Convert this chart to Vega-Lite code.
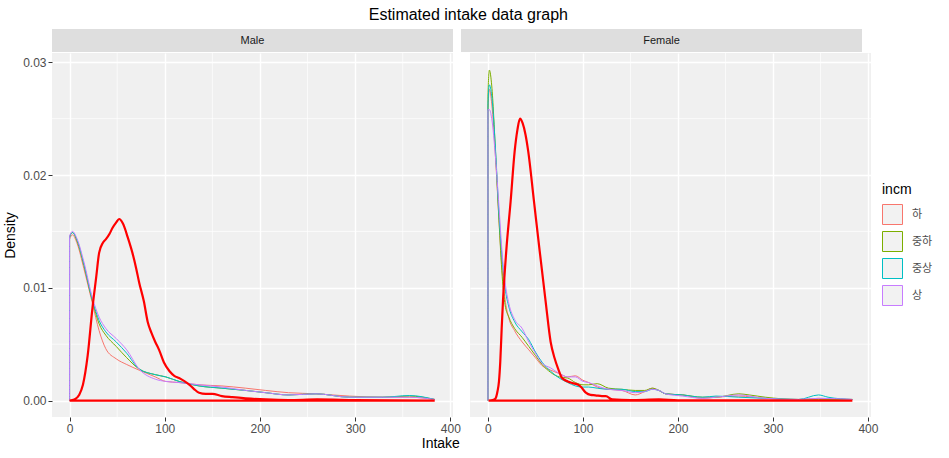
{
"$schema":"https://vega.github.io/schema/vega-lite/v6.json",
"background":"white",
"padding":{"left":3,"top":7,"right":5,"bottom":5},
"title":{"text":"Estimated intake data graph","fontSize":16,"fontWeight":"normal","color":"#000000","anchor":"middle","offset":6},
"datasets":{
"minor":[{"axis":"x","v":50},{"axis":"x","v":150},{"axis":"x","v":250},{"axis":"x","v":350},{"axis":"y","v":0.005},{"axis":"y","v":0.015},{"axis":"y","v":0.025}],
"dens":[
{"sex":"Male","incm":"하","i":0,"x":0,"d":0},{"sex":"Male","incm":"하","i":1,"x":0,"d":0.0143},{"sex":"Male","incm":"하","i":2,"x":3,"d":0.0147},{"sex":"Male","incm":"하","i":3,"x":8,"d":0.0139},{"sex":"Male","incm":"하","i":4,"x":15,"d":0.0117},{"sex":"Male","incm":"하","i":5,"x":24,"d":0.0086},{"sex":"Male","incm":"하","i":6,"x":31,"d":0.0062},{"sex":"Male","incm":"하","i":7,"x":38,"d":0.0046},{"sex":"Male","incm":"하","i":8,"x":49,"d":0.0037},{"sex":"Male","incm":"하","i":9,"x":60,"d":0.0032},{"sex":"Male","incm":"하","i":10,"x":73,"d":0.0027},{"sex":"Male","incm":"하","i":11,"x":90,"d":0.0021},{"sex":"Male","incm":"하","i":12,"x":101,"d":0.0017},{"sex":"Male","incm":"하","i":13,"x":115,"d":0.0016},{"sex":"Male","incm":"하","i":14,"x":136,"d":0.0014},{"sex":"Male","incm":"하","i":15,"x":160,"d":0.0013},{"sex":"Male","incm":"하","i":16,"x":185,"d":0.0011},{"sex":"Male","incm":"하","i":17,"x":206,"d":0.0009},{"sex":"Male","incm":"하","i":18,"x":230,"d":0.0007},{"sex":"Male","incm":"하","i":19,"x":259,"d":0.0006},{"sex":"Male","incm":"하","i":20,"x":294,"d":0.0004},{"sex":"Male","incm":"하","i":21,"x":329,"d":0.0003},{"sex":"Male","incm":"하","i":22,"x":357,"d":0.0003},{"sex":"Male","incm":"하","i":23,"x":383.6,"d":0.0001},
{"sex":"Male","incm":"중하","i":0,"x":0,"d":0},{"sex":"Male","incm":"중하","i":1,"x":0,"d":0.0145},{"sex":"Male","incm":"중하","i":2,"x":3,"d":0.0149},{"sex":"Male","incm":"중하","i":3,"x":8,"d":0.0141},{"sex":"Male","incm":"중하","i":4,"x":15,"d":0.012},{"sex":"Male","incm":"중하","i":5,"x":24,"d":0.0088},{"sex":"Male","incm":"중하","i":6,"x":31,"d":0.0068},{"sex":"Male","incm":"중하","i":7,"x":38,"d":0.0058},{"sex":"Male","incm":"중하","i":8,"x":49,"d":0.0048},{"sex":"Male","incm":"중하","i":9,"x":60,"d":0.0038},{"sex":"Male","incm":"중하","i":10,"x":73,"d":0.0028},{"sex":"Male","incm":"중하","i":11,"x":90,"d":0.0023},{"sex":"Male","incm":"중하","i":12,"x":101,"d":0.0021},{"sex":"Male","incm":"중하","i":13,"x":115,"d":0.0017},{"sex":"Male","incm":"중하","i":14,"x":136,"d":0.0013},{"sex":"Male","incm":"중하","i":15,"x":160,"d":0.0011},{"sex":"Male","incm":"중하","i":16,"x":185,"d":0.0009},{"sex":"Male","incm":"중하","i":17,"x":206,"d":0.0007},{"sex":"Male","incm":"중하","i":18,"x":230,"d":0.0005},{"sex":"Male","incm":"중하","i":19,"x":259,"d":0.0006},{"sex":"Male","incm":"중하","i":20,"x":294,"d":0.0003},{"sex":"Male","incm":"중하","i":21,"x":329,"d":0.0003},{"sex":"Male","incm":"중하","i":22,"x":357,"d":0.0004},{"sex":"Male","incm":"중하","i":23,"x":383.6,"d":0.0001},
{"sex":"Male","incm":"중상","i":0,"x":0,"d":0},{"sex":"Male","incm":"중상","i":1,"x":0,"d":0.0145},{"sex":"Male","incm":"중상","i":2,"x":3,"d":0.0149},{"sex":"Male","incm":"중상","i":3,"x":8,"d":0.0142},{"sex":"Male","incm":"중상","i":4,"x":15,"d":0.0121},{"sex":"Male","incm":"중상","i":5,"x":24,"d":0.0089},{"sex":"Male","incm":"중상","i":6,"x":31,"d":0.0071},{"sex":"Male","incm":"중상","i":7,"x":38,"d":0.0061},{"sex":"Male","incm":"중상","i":8,"x":49,"d":0.0052},{"sex":"Male","incm":"중상","i":9,"x":60,"d":0.0042},{"sex":"Male","incm":"중상","i":10,"x":73,"d":0.0028},{"sex":"Male","incm":"중상","i":11,"x":90,"d":0.0023},{"sex":"Male","incm":"중상","i":12,"x":101,"d":0.0021},{"sex":"Male","incm":"중상","i":13,"x":115,"d":0.0017},{"sex":"Male","incm":"중상","i":14,"x":136,"d":0.0013},{"sex":"Male","incm":"중상","i":15,"x":160,"d":0.0011},{"sex":"Male","incm":"중상","i":16,"x":185,"d":0.0009},{"sex":"Male","incm":"중상","i":17,"x":206,"d":0.0007},{"sex":"Male","incm":"중상","i":18,"x":230,"d":0.0005},{"sex":"Male","incm":"중상","i":19,"x":259,"d":0.0006},{"sex":"Male","incm":"중상","i":20,"x":294,"d":0.0003},{"sex":"Male","incm":"중상","i":21,"x":329,"d":0.0003},{"sex":"Male","incm":"중상","i":22,"x":357,"d":0.00045},{"sex":"Male","incm":"중상","i":23,"x":383.6,"d":0.0001},
{"sex":"Male","incm":"상","i":0,"x":0,"d":0},{"sex":"Male","incm":"상","i":1,"x":0,"d":0.0146},{"sex":"Male","incm":"상","i":2,"x":3,"d":0.015},{"sex":"Male","incm":"상","i":3,"x":8,"d":0.0143},{"sex":"Male","incm":"상","i":4,"x":15,"d":0.0123},{"sex":"Male","incm":"상","i":5,"x":24,"d":0.0091},{"sex":"Male","incm":"상","i":6,"x":31,"d":0.0074},{"sex":"Male","incm":"상","i":7,"x":38,"d":0.0064},{"sex":"Male","incm":"상","i":8,"x":49,"d":0.0055},{"sex":"Male","incm":"상","i":9,"x":60,"d":0.0045},{"sex":"Male","incm":"상","i":10,"x":73,"d":0.0028},{"sex":"Male","incm":"상","i":11,"x":90,"d":0.0019},{"sex":"Male","incm":"상","i":12,"x":101,"d":0.0017},{"sex":"Male","incm":"상","i":13,"x":115,"d":0.0016},{"sex":"Male","incm":"상","i":14,"x":136,"d":0.0014},{"sex":"Male","incm":"상","i":15,"x":160,"d":0.0012},{"sex":"Male","incm":"상","i":16,"x":185,"d":0.0009},{"sex":"Male","incm":"상","i":17,"x":206,"d":0.0007},{"sex":"Male","incm":"상","i":18,"x":230,"d":0.0005},{"sex":"Male","incm":"상","i":19,"x":259,"d":0.0006},{"sex":"Male","incm":"상","i":20,"x":294,"d":0.0003},{"sex":"Male","incm":"상","i":21,"x":329,"d":0.0003},{"sex":"Male","incm":"상","i":22,"x":357,"d":0.0003},{"sex":"Male","incm":"상","i":23,"x":383.6,"d":0.0001},
{"sex":"Female","incm":"하","i":0,"x":0,"d":0},{"sex":"Female","incm":"하","i":1,"x":0,"d":0.0255},{"sex":"Female","incm":"하","i":2,"x":1.5,"d":0.0276},{"sex":"Female","incm":"하","i":3,"x":4,"d":0.0263},{"sex":"Female","incm":"하","i":4,"x":8,"d":0.0215},{"sex":"Female","incm":"하","i":5,"x":11.6,"d":0.016},{"sex":"Female","incm":"하","i":6,"x":15,"d":0.0115},{"sex":"Female","incm":"하","i":7,"x":18,"d":0.009},{"sex":"Female","incm":"하","i":8,"x":22,"d":0.0073},{"sex":"Female","incm":"하","i":9,"x":28,"d":0.0062},{"sex":"Female","incm":"하","i":10,"x":36,"d":0.0052},{"sex":"Female","incm":"하","i":11,"x":43,"d":0.0045},{"sex":"Female","incm":"하","i":12,"x":50,"d":0.0038},{"sex":"Female","incm":"하","i":13,"x":57,"d":0.0031},{"sex":"Female","incm":"하","i":14,"x":66,"d":0.0027},{"sex":"Female","incm":"하","i":15,"x":75,"d":0.0024},{"sex":"Female","incm":"하","i":16,"x":84,"d":0.0021},{"sex":"Female","incm":"하","i":17,"x":92,"d":0.0022},{"sex":"Female","incm":"하","i":18,"x":100,"d":0.0018},{"sex":"Female","incm":"하","i":19,"x":106,"d":0.0016},{"sex":"Female","incm":"하","i":20,"x":115,"d":0.0012},{"sex":"Female","incm":"하","i":21,"x":127,"d":0.001},{"sex":"Female","incm":"하","i":22,"x":141,"d":0.0009},{"sex":"Female","incm":"하","i":23,"x":155,"d":0.0005},{"sex":"Female","incm":"하","i":24,"x":165,"d":0.0008},{"sex":"Female","incm":"하","i":25,"x":173,"d":0.0011},{"sex":"Female","incm":"하","i":26,"x":180,"d":0.0009},{"sex":"Female","incm":"하","i":27,"x":187,"d":0.0006},{"sex":"Female","incm":"하","i":28,"x":205,"d":0.0005},{"sex":"Female","incm":"하","i":29,"x":226,"d":0.0002},{"sex":"Female","incm":"하","i":30,"x":240,"d":0.0003},{"sex":"Female","incm":"하","i":31,"x":264,"d":0.0004},{"sex":"Female","incm":"하","i":32,"x":292,"d":0.0002},{"sex":"Female","incm":"하","i":33,"x":327,"d":0.0001},{"sex":"Female","incm":"하","i":34,"x":348,"d":0.0002},{"sex":"Female","incm":"하","i":35,"x":383.6,"d":0.0001},
{"sex":"Female","incm":"중하","i":0,"x":0,"d":0},{"sex":"Female","incm":"중하","i":1,"x":0,"d":0.027},{"sex":"Female","incm":"중하","i":2,"x":1.5,"d":0.0293},{"sex":"Female","incm":"중하","i":3,"x":4,"d":0.0279},{"sex":"Female","incm":"중하","i":4,"x":8,"d":0.022},{"sex":"Female","incm":"중하","i":5,"x":11.6,"d":0.016},{"sex":"Female","incm":"중하","i":6,"x":15,"d":0.011},{"sex":"Female","incm":"중하","i":7,"x":18,"d":0.0085},{"sex":"Female","incm":"중하","i":8,"x":22,"d":0.0074},{"sex":"Female","incm":"중하","i":9,"x":28,"d":0.0064},{"sex":"Female","incm":"중하","i":10,"x":36,"d":0.0056},{"sex":"Female","incm":"중하","i":11,"x":43,"d":0.0048},{"sex":"Female","incm":"중하","i":12,"x":50,"d":0.004},{"sex":"Female","incm":"중하","i":13,"x":57,"d":0.0032},{"sex":"Female","incm":"중하","i":14,"x":66,"d":0.0025},{"sex":"Female","incm":"중하","i":15,"x":75,"d":0.0021},{"sex":"Female","incm":"중하","i":16,"x":84,"d":0.002},{"sex":"Female","incm":"중하","i":17,"x":92,"d":0.0016},{"sex":"Female","incm":"중하","i":18,"x":100,"d":0.0014},{"sex":"Female","incm":"중하","i":19,"x":106,"d":0.0014},{"sex":"Female","incm":"중하","i":20,"x":115,"d":0.0015},{"sex":"Female","incm":"중하","i":21,"x":127,"d":0.0011},{"sex":"Female","incm":"중하","i":22,"x":141,"d":0.001},{"sex":"Female","incm":"중하","i":23,"x":155,"d":0.0009},{"sex":"Female","incm":"중하","i":24,"x":165,"d":0.0009},{"sex":"Female","incm":"중하","i":25,"x":173,"d":0.0011},{"sex":"Female","incm":"중하","i":26,"x":180,"d":0.0009},{"sex":"Female","incm":"중하","i":27,"x":187,"d":0.0006},{"sex":"Female","incm":"중하","i":28,"x":205,"d":0.0005},{"sex":"Female","incm":"중하","i":29,"x":226,"d":0.0003},{"sex":"Female","incm":"중하","i":30,"x":240,"d":0.0003},{"sex":"Female","incm":"중하","i":31,"x":264,"d":0.0006},{"sex":"Female","incm":"중하","i":32,"x":275,"d":0.0005},{"sex":"Female","incm":"중하","i":33,"x":292,"d":0.0003},{"sex":"Female","incm":"중하","i":34,"x":327,"d":0.0001},{"sex":"Female","incm":"중하","i":35,"x":348,"d":0.0001},{"sex":"Female","incm":"중하","i":36,"x":383.6,"d":0.0001},
{"sex":"Female","incm":"중상","i":0,"x":0,"d":0},{"sex":"Female","incm":"중상","i":1,"x":0,"d":0.0262},{"sex":"Female","incm":"중상","i":2,"x":1.5,"d":0.028},{"sex":"Female","incm":"중상","i":3,"x":4,"d":0.027},{"sex":"Female","incm":"중상","i":4,"x":8,"d":0.0222},{"sex":"Female","incm":"중상","i":5,"x":11.6,"d":0.0165},{"sex":"Female","incm":"중상","i":6,"x":15,"d":0.0125},{"sex":"Female","incm":"중상","i":7,"x":18,"d":0.01},{"sex":"Female","incm":"중상","i":8,"x":22,"d":0.0083},{"sex":"Female","incm":"중상","i":9,"x":28,"d":0.007},{"sex":"Female","incm":"중상","i":10,"x":36,"d":0.0061},{"sex":"Female","incm":"중상","i":11,"x":43,"d":0.0054},{"sex":"Female","incm":"중상","i":12,"x":50,"d":0.0043},{"sex":"Female","incm":"중상","i":13,"x":57,"d":0.0034},{"sex":"Female","incm":"중상","i":14,"x":66,"d":0.0026},{"sex":"Female","incm":"중상","i":15,"x":75,"d":0.002},{"sex":"Female","incm":"중상","i":16,"x":84,"d":0.0016},{"sex":"Female","incm":"중상","i":17,"x":92,"d":0.0013},{"sex":"Female","incm":"중상","i":18,"x":100,"d":0.0012},{"sex":"Female","incm":"중상","i":19,"x":106,"d":0.0012},{"sex":"Female","incm":"중상","i":20,"x":115,"d":0.0011},{"sex":"Female","incm":"중상","i":21,"x":127,"d":0.001},{"sex":"Female","incm":"중상","i":22,"x":141,"d":0.001},{"sex":"Female","incm":"중상","i":23,"x":155,"d":0.0008},{"sex":"Female","incm":"중상","i":24,"x":165,"d":0.0008},{"sex":"Female","incm":"중상","i":25,"x":173,"d":0.001},{"sex":"Female","incm":"중상","i":26,"x":180,"d":0.0009},{"sex":"Female","incm":"중상","i":27,"x":187,"d":0.0006},{"sex":"Female","incm":"중상","i":28,"x":205,"d":0.0005},{"sex":"Female","incm":"중상","i":29,"x":226,"d":0.0003},{"sex":"Female","incm":"중상","i":30,"x":240,"d":0.0004},{"sex":"Female","incm":"중상","i":31,"x":264,"d":0.0003},{"sex":"Female","incm":"중상","i":32,"x":292,"d":0.0002},{"sex":"Female","incm":"중상","i":33,"x":327,"d":0.0001},{"sex":"Female","incm":"중상","i":34,"x":348,"d":0.0005},{"sex":"Female","incm":"중상","i":35,"x":358,"d":0.0003},{"sex":"Female","incm":"중상","i":36,"x":383.6,"d":0.0001},
{"sex":"Female","incm":"상","i":0,"x":0,"d":0},{"sex":"Female","incm":"상","i":1,"x":0,"d":0.0258},{"sex":"Female","incm":"상","i":2,"x":1.5,"d":0.0258},{"sex":"Female","incm":"상","i":3,"x":4,"d":0.025},{"sex":"Female","incm":"상","i":4,"x":8,"d":0.0215},{"sex":"Female","incm":"상","i":5,"x":11.6,"d":0.0172},{"sex":"Female","incm":"상","i":6,"x":15,"d":0.013},{"sex":"Female","incm":"상","i":7,"x":18,"d":0.0105},{"sex":"Female","incm":"상","i":8,"x":22,"d":0.0086},{"sex":"Female","incm":"상","i":9,"x":28,"d":0.0072},{"sex":"Female","incm":"상","i":10,"x":36,"d":0.0064},{"sex":"Female","incm":"상","i":11,"x":43,"d":0.0052},{"sex":"Female","incm":"상","i":12,"x":50,"d":0.0042},{"sex":"Female","incm":"상","i":13,"x":57,"d":0.0033},{"sex":"Female","incm":"상","i":14,"x":66,"d":0.0029},{"sex":"Female","incm":"상","i":15,"x":75,"d":0.0024},{"sex":"Female","incm":"상","i":16,"x":84,"d":0.0021},{"sex":"Female","incm":"상","i":17,"x":92,"d":0.0021},{"sex":"Female","incm":"상","i":18,"x":100,"d":0.0017},{"sex":"Female","incm":"상","i":19,"x":106,"d":0.0016},{"sex":"Female","incm":"상","i":20,"x":115,"d":0.0013},{"sex":"Female","incm":"상","i":21,"x":127,"d":0.001},{"sex":"Female","incm":"상","i":22,"x":141,"d":0.0009},{"sex":"Female","incm":"상","i":23,"x":155,"d":0.0007},{"sex":"Female","incm":"상","i":24,"x":165,"d":0.0008},{"sex":"Female","incm":"상","i":25,"x":173,"d":0.001},{"sex":"Female","incm":"상","i":26,"x":180,"d":0.0009},{"sex":"Female","incm":"상","i":27,"x":187,"d":0.0006},{"sex":"Female","incm":"상","i":28,"x":205,"d":0.0004},{"sex":"Female","incm":"상","i":29,"x":226,"d":0.0002},{"sex":"Female","incm":"상","i":30,"x":240,"d":0.0003},{"sex":"Female","incm":"상","i":31,"x":264,"d":0.0005},{"sex":"Female","incm":"상","i":32,"x":292,"d":0.0002},{"sex":"Female","incm":"상","i":33,"x":327,"d":0.0001},{"sex":"Female","incm":"상","i":34,"x":348,"d":0.0002},{"sex":"Female","incm":"상","i":35,"x":383.6,"d":0.0001}
],
"est":[
{"sex":"Male","i":0,"x":0,"d":0},{"sex":"Male","i":1,"x":5,"d":0.0001},{"sex":"Male","i":2,"x":10,"d":0.0005},{"sex":"Male","i":3,"x":14,"d":0.0014},{"sex":"Male","i":4,"x":19,"d":0.004},{"sex":"Male","i":5,"x":24,"d":0.0082},{"sex":"Male","i":6,"x":28,"d":0.011},{"sex":"Male","i":7,"x":31,"d":0.0131},{"sex":"Male","i":8,"x":35,"d":0.014},{"sex":"Male","i":9,"x":38,"d":0.0143},{"sex":"Male","i":10,"x":42,"d":0.0148},{"sex":"Male","i":11,"x":45,"d":0.0153},{"sex":"Male","i":12,"x":49,"d":0.0158},{"sex":"Male","i":13,"x":52,"d":0.0161},{"sex":"Male","i":14,"x":56,"d":0.0157},{"sex":"Male","i":15,"x":61,"d":0.0145},{"sex":"Male","i":16,"x":66,"d":0.0131},{"sex":"Male","i":17,"x":70,"d":0.0117},{"sex":"Male","i":18,"x":73,"d":0.0105},{"sex":"Male","i":19,"x":78,"d":0.0088},{"sex":"Male","i":20,"x":82,"d":0.007},{"sex":"Male","i":21,"x":86,"d":0.006},{"sex":"Male","i":22,"x":90,"d":0.0052},{"sex":"Male","i":23,"x":94,"d":0.0045},{"sex":"Male","i":24,"x":99,"d":0.0034},{"sex":"Male","i":25,"x":105,"d":0.0026},{"sex":"Male","i":26,"x":110,"d":0.0022},{"sex":"Male","i":27,"x":115,"d":0.002},{"sex":"Male","i":28,"x":121,"d":0.0017},{"sex":"Male","i":29,"x":126,"d":0.0014},{"sex":"Male","i":30,"x":131,"d":0.001},{"sex":"Male","i":31,"x":136,"d":0.0007},{"sex":"Male","i":32,"x":143,"d":0.0006},{"sex":"Male","i":33,"x":150,"d":0.0006},{"sex":"Male","i":34,"x":160,"d":0.0004},{"sex":"Male","i":35,"x":171,"d":0.0003},{"sex":"Male","i":36,"x":185,"d":0.0002},{"sex":"Male","i":37,"x":206,"d":0.0001},{"sex":"Male","i":38,"x":230,"d":0.00005},{"sex":"Male","i":39,"x":260,"d":0.0001},{"sex":"Male","i":40,"x":300,"d":0.00005},{"sex":"Male","i":41,"x":383.6,"d":0},{"sex":"Male","i":42,"x":0,"d":0},
{"sex":"Female","i":0,"x":0.65,"d":0},{"sex":"Female","i":1,"x":5,"d":0.00005},{"sex":"Female","i":2,"x":8,"d":0.0002},{"sex":"Female","i":3,"x":10,"d":0.0008},{"sex":"Female","i":4,"x":11.6,"d":0.0017},{"sex":"Female","i":5,"x":13,"d":0.0035},{"sex":"Female","i":6,"x":14.5,"d":0.0065},{"sex":"Female","i":7,"x":15.8,"d":0.0088},{"sex":"Female","i":8,"x":19.3,"d":0.0133},{"sex":"Female","i":9,"x":23.9,"d":0.0177},{"sex":"Female","i":10,"x":28.1,"d":0.0221},{"sex":"Female","i":11,"x":31,"d":0.024},{"sex":"Female","i":12,"x":33.7,"d":0.025},{"sex":"Female","i":13,"x":36.5,"d":0.0246},{"sex":"Female","i":14,"x":39.5,"d":0.0236},{"sex":"Female","i":15,"x":42.4,"d":0.0221},{"sex":"Female","i":16,"x":48.4,"d":0.0177},{"sex":"Female","i":17,"x":54.4,"d":0.0133},{"sex":"Female","i":18,"x":60.7,"d":0.0088},{"sex":"Female","i":19,"x":66,"d":0.0052},{"sex":"Female","i":20,"x":70,"d":0.0038},{"sex":"Female","i":21,"x":74,"d":0.0028},{"sex":"Female","i":22,"x":78,"d":0.002},{"sex":"Female","i":23,"x":84,"d":0.0017},{"sex":"Female","i":24,"x":89,"d":0.00155},{"sex":"Female","i":25,"x":95,"d":0.0014},{"sex":"Female","i":26,"x":98,"d":0.0012},{"sex":"Female","i":27,"x":103,"d":0.0007},{"sex":"Female","i":28,"x":108,"d":0.0005},{"sex":"Female","i":29,"x":113,"d":0.00047},{"sex":"Female","i":30,"x":120,"d":0.0004},{"sex":"Female","i":31,"x":124,"d":0.0004},{"sex":"Female","i":32,"x":131,"d":0.0001},{"sex":"Female","i":33,"x":150,"d":0.00005},{"sex":"Female","i":34,"x":180,"d":0.0001},{"sex":"Female","i":35,"x":200,"d":0.00003},{"sex":"Female","i":36,"x":383.6,"d":0},{"sex":"Female","i":37,"x":0.65,"d":0}
]
},
"resolve":{"scale":{"color":"shared"},"legend":{"color":"shared"}},
"spacing":0,
"vconcat":[
{"hconcat":[
{"width":401,"height":23,"view":{"fill":"#DEDEDE","stroke":null},"data":{"values":[{"sex":"Male"}]},"mark":{"type":"text","fontSize":11,"color":"#1A1A1A"},"encoding":{"text":{"field":"sex"}}},
{"width":401,"height":23,"view":{"fill":"#DEDEDE","stroke":null},"data":{"values":[{"sex":"Female"}]},"mark":{"type":"text","fontSize":11,"color":"#1A1A1A"},"encoding":{"text":{"field":"sex"}}}
],"spacing":8},
{"hconcat":[
{"width":401,"height":364,
"layer":[
{"data":{"name":"minor"},"transform":[{"filter":"datum.axis==='x'"}],"mark":{"type":"rule","color":"#FFFFFF","strokeWidth":0.7},"encoding":{"x":{"field":"v","type":"quantitative","scale":{"domain":[-18.5,402.8],"nice":false,"zero":false},"axis":{"values":[0,100,200,300,400],"format":"d","title":null,"grid":true}}}},
{"data":{"name":"minor"},"transform":[{"filter":"datum.axis==='y'"}],"mark":{"type":"rule","color":"#FFFFFF","strokeWidth":0.7},"encoding":{"y":{"field":"v","type":"quantitative","scale":{"domain":[-0.001455,0.03082],"nice":false,"zero":false},"axis":{"values":[0,0.01,0.02,0.03],"format":".2f","title":"Density","grid":true}}}},
{"data":{"name":"dens"},"transform":[{"filter":"datum.sex==='Male'"}],"mark":{"type":"line","strokeWidth":1,"interpolate":"monotone"},"encoding":{
"x":{"field":"x","type":"quantitative","scale":{"domain":[-18.5,402.8],"nice":false,"zero":false},"axis":{"values":[0,100,200,300,400],"format":"d","title":null,"grid":true}},
"y":{"field":"d","type":"quantitative","scale":{"domain":[-0.001455,0.03082],"nice":false,"zero":false},"axis":{"values":[0,0.01,0.02,0.03],"format":".2f","title":"Density","grid":true}},
"color":{"field":"incm","type":"nominal","scale":{"domain":["하","중하","중상","상"],"range":["#F8766D","#7CAE00","#00BFC4","#C77CFF"]},"legend":{"title":"incm","orient":"none","legendX":830,"legendY":154}},
"order":{"field":"i","type":"quantitative"}}},
{"data":{"name":"est"},"transform":[{"filter":"datum.sex==='Male'"}],"mark":{"type":"line","strokeWidth":2.2,"color":"#FF0000","interpolate":"monotone"},"encoding":{
"x":{"field":"x","type":"quantitative","scale":{"domain":[-18.5,402.8],"nice":false,"zero":false},"axis":{"values":[0,100,200,300,400],"format":"d","title":null,"grid":true}},
"y":{"field":"d","type":"quantitative","scale":{"domain":[-0.001455,0.03082],"nice":false,"zero":false},"axis":{"values":[0,0.01,0.02,0.03],"format":".2f","title":"Density","grid":true}},
"order":{"field":"i","type":"quantitative"}}}
]},
{"width":401,"height":364,
"layer":[
{"data":{"name":"minor"},"transform":[{"filter":"datum.axis==='x'"}],"mark":{"type":"rule","color":"#FFFFFF","strokeWidth":0.7},"encoding":{"x":{"field":"v","type":"quantitative","scale":{"domain":[-18.9,403.2],"nice":false,"zero":false},"axis":{"values":[0,100,200,300,400],"format":"d","title":null,"grid":true}}}},
{"data":{"name":"minor"},"transform":[{"filter":"datum.axis==='y'"}],"mark":{"type":"rule","color":"#FFFFFF","strokeWidth":0.7},"encoding":{"y":{"field":"v","type":"quantitative","scale":{"domain":[-0.001455,0.03082],"nice":false,"zero":false},"axis":{"values":[0,0.01,0.02,0.03],"labels":false,"ticks":false,"title":null,"grid":true}}}},
{"data":{"name":"dens"},"transform":[{"filter":"datum.sex==='Female'"}],"mark":{"type":"line","strokeWidth":1,"interpolate":"monotone"},"encoding":{
"x":{"field":"x","type":"quantitative","scale":{"domain":[-18.9,403.2],"nice":false,"zero":false},"axis":{"values":[0,100,200,300,400],"format":"d","title":null,"grid":true}},
"y":{"field":"d","type":"quantitative","scale":{"domain":[-0.001455,0.03082],"nice":false,"zero":false},"axis":{"values":[0,0.01,0.02,0.03],"labels":false,"ticks":false,"title":null,"grid":true}},
"color":{"field":"incm","type":"nominal","scale":{"domain":["하","중하","중상","상"],"range":["#F8766D","#7CAE00","#00BFC4","#C77CFF"]},"legend":{"title":"incm","orient":"none","legendX":830,"legendY":154}},
"order":{"field":"i","type":"quantitative"}}},
{"data":{"name":"est"},"transform":[{"filter":"datum.sex==='Female'"}],"mark":{"type":"line","strokeWidth":2.2,"color":"#FF0000","interpolate":"monotone"},"encoding":{
"x":{"field":"x","type":"quantitative","scale":{"domain":[-18.9,403.2],"nice":false,"zero":false},"axis":{"values":[0,100,200,300,400],"format":"d","title":null,"grid":true}},
"y":{"field":"d","type":"quantitative","scale":{"domain":[-0.001455,0.03082],"nice":false,"zero":false},"axis":{"values":[0,0.01,0.02,0.03],"labels":false,"ticks":false,"title":null,"grid":true}},
"order":{"field":"i","type":"quantitative"}}}
]}
],"spacing":8,"title":{"text":"Intake","orient":"bottom","anchor":"middle","fontSize":14,"fontWeight":"normal","color":"#000000","offset":3}}
],
"config":{
"font":"Liberation Sans",
"view":{"stroke":null,"fill":"#F0F0F0"},
"axis":{"domain":false,"tickColor":"#333333","tickSize":4,"tickWidth":1,"labelColor":"#4D4D4D","labelFontSize":12,"labelPadding":2,"titleFontSize":14,"titleFontWeight":"normal","titleColor":"#000000","titlePadding":5,"gridColor":"#FFFFFF","gridWidth":1.4},
"legend":{"titleFontSize":14,"titleFontWeight":"normal","titleColor":"#000000","titlePadding":7,"labelFont":"Noto Sans CJK KR","labelFontSize":11,"labelColor":"#4D4D4D","labelOffset":9,"symbolType":"square","symbolSize":400,"symbolStrokeWidth":1,"symbolFillColor":"#F2F2F2","rowPadding":2}
}
}
